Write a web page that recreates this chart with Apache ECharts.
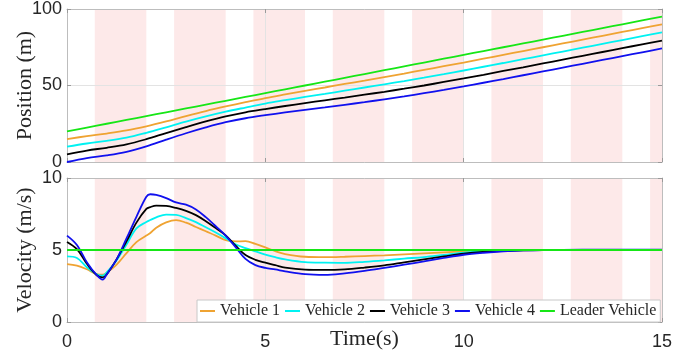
<!DOCTYPE html>
<html>
<head>
<meta charset="utf-8">
<script src="https://cdn.jsdelivr.net/npm/echarts@6/dist/echarts.min.js"></script>
<style>
html,body{margin:0;padding:0;background:#fff;}
#chart{width:700px;height:353px;}
</style>
</head>
<body>
<div id="chart"></div>
<script>
// ---------- data ----------
const seriesNames = ['Vehicle 1', 'Vehicle 2', 'Vehicle 3', 'Vehicle 4', 'Leader Vehicle'];
const xTicks = [0, 5, 10, 15];
const posTicks = [0, 50, 100];
const velTicks = [0, 5, 10];

// shaded intervals (s)
const bandStart = [0.7, 2.7, 4.7, 6.7, 8.7, 10.7, 12.7, 14.7];
const bandEnd   = [2.0, 4.0, 6.0, 8.0, 10.0, 12.0, 14.0, 15.0];

// position samples (s)
const posTime = [0,0.5,1,1.5,2,2.5,3,3.5,4,4.5,5,5.5,6,6.5,7,7.5,8,8.5,9,9.5,10,10.5,11,11.5,12,12.5,13,13.5,14,14.5,15];
const pos1 = [15.0,16.9,18.6,20.6,23.3,26.5,30.0,33.3,36.3,39.1,41.8,44.2,46.5,48.7,51.0,53.2,55.5,57.8,60.2,62.6,65.0,67.5,70.0,72.5,75.0,77.5,80.0,82.5,85.0,87.5,90.0];
const pos2 = [10.0,12.1,13.8,15.9,19.1,22.7,26.4,29.8,32.9,35.6,38.2,40.4,42.5,44.5,46.6,48.7,50.8,52.9,55.1,57.4,59.8,62.25,64.7,67.2,69.7,72.2,74.7,77.2,79.7,82.2,84.7];
const pos3 = [5.0,7.5,9.3,11.5,14.9,18.9,22.8,26.5,29.8,32.5,34.6,36.6,38.5,40.3,42.1,44.0,45.9,47.9,50.0,52.3,54.6,57.0,59.5,61.9,64.4,66.9,69.4,71.9,74.4,76.9,79.4];
const pos4 = [0.0,2.6,4.3,6.6,10.2,14.6,18.8,22.6,26.0,28.6,30.6,32.4,34.1,35.7,37.4,39.1,41.0,42.9,45.0,47.1,49.4,51.8,54.2,56.7,59.2,61.7,64.2,66.7,69.2,71.7,74.2];
const posLeader = [20,22.5,25,27.5,30,32.5,35,37.5,40,42.5,45,47.5,50,52.5,55,57.5,60,62.5,65,67.5,70,72.5,75,77.5,80,82.5,85,87.5,90,92.5,95];

// velocity samples (s)
const velTime = [0,0.25,0.5,0.75,0.9,1,1.25,1.5,1.75,2,2.1,2.25,2.5,2.75,3,3.25,3.5,3.75,4,4.25,4.5,4.75,5,5.25,5.5,6,6.5,7,7.5,8,8.5,9,9.5,10,10.5,11,11.5,12,13,14,15];
const vel1 = [4.02,3.92,3.66,3.32,3.28,3.42,3.98,4.78,5.55,6.0,6.18,6.55,6.92,7.08,6.9,6.6,6.3,6.0,5.68,5.6,5.61,5.42,5.18,4.92,4.72,4.53,4.5,4.53,4.58,4.63,4.7,4.77,4.84,4.91,4.96,4.99,5.0,5.0,5.0,5.0,5.0];
const vel2 = [4.56,4.45,3.8,3.32,3.22,3.45,4.27,5.38,6.5,6.95,7.08,7.27,7.46,7.44,7.22,6.94,6.58,6.22,5.82,5.4,5.13,4.9,4.68,4.5,4.35,4.16,4.12,4.11,4.18,4.28,4.4,4.51,4.66,4.81,4.92,4.97,5.0,5.0,5.0,5.0,5.0];
const vel3 = [5.56,5.06,4.05,3.25,3.1,3.3,4.35,5.6,6.9,7.85,7.98,8.08,8.06,7.92,7.72,7.42,7.0,6.52,6.02,5.3,4.65,4.32,4.12,3.95,3.78,3.64,3.62,3.66,3.78,3.93,4.14,4.35,4.55,4.74,4.86,4.93,4.98,5.0,5.0,5.0,5.0];
const vel4 = [6.0,5.35,4.15,3.25,2.94,3.3,4.35,5.8,7.3,8.7,8.87,8.82,8.6,8.3,8.15,7.82,7.28,6.65,6.0,5.2,4.38,3.95,3.76,3.65,3.52,3.32,3.27,3.38,3.55,3.76,3.98,4.21,4.45,4.67,4.81,4.91,4.97,5.0,5.02,5.02,5.02];
const velLeaderTime = [0, 15];
const velLeader = [5, 5];

const colors = ['#EFA332', '#00F2F2', '#000000', '#1010EE', '#16E616'];

// ---------- chart ----------
const zip = (xs, ys) => xs.map((x, i) => [x, ys[i]]);
const chart = echarts.init(document.getElementById('chart'), null, {renderer: 'canvas'});

const tickFont = {fontFamily: 'Liberation Sans, Arial, sans-serif', fontSize: 18, color: '#262626'};
const nameFont = {fontFamily: 'Liberation Serif, Times New Roman, serif', fontSize: 22, color: '#262626'};
const frameColor = '#bdbdbd';
const gridColor = '#e3e3e3';

const grids = [
  {left: 67, right: 38, top: 9, height: 153, containLabel: false, outerBoundsMode: 'none'},
  {left: 67, right: 38, top: 178, height: 144, containLabel: false, outerBoundsMode: 'none'}
];

function xAxisFor(gi, pos, showLabels, name) {
  return {
    type: 'value', gridIndex: gi, position: pos, min: 0, max: 15, interval: 5, z: 3,
    name: name || '', nameLocation: 'middle', nameGap: 6, nameMoveOverlap: false,
    nameTextStyle: nameFont,
    axisLine: {show: true, onZero: false, lineStyle: {color: frameColor, width: 1}},
    axisTick: {show: true, inside: true, length: 4, lineStyle: {color: '#9a9a9a'}},
    axisLabel: Object.assign({show: showLabels, margin: 11, formatter: v => (xTicks.includes(v) ? String(v) : '')}, tickFont),
    splitLine: {show: pos === 'bottom', lineStyle: {color: gridColor, width: 1}}
  };
}
function yAxisFor(gi, pos, ticks, name) {
  return {
    type: 'value', gridIndex: gi, position: pos, min: ticks[0], max: ticks[ticks.length - 1],
    interval: ticks[1] - ticks[0], z: 3,
    name: name || '', nameLocation: 'middle', nameGap: 31, nameMoveOverlap: false,
    nameTextStyle: nameFont,
    axisLine: {show: true, onZero: false, lineStyle: {color: frameColor, width: 1}},
    axisTick: {show: true, inside: true, length: 4, lineStyle: {color: '#9a9a9a'}},
    axisLabel: Object.assign({show: pos === 'left', margin: 5}, tickFont),
    splitLine: {show: pos === 'left', lineStyle: {color: gridColor, width: 1}}
  };
}

const bands = bandStart.map((s, i) => [{xAxis: s}, {xAxis: bandEnd[i]}]);

const posData = [pos1, pos2, pos3, pos4];
const velData = [vel1, vel2, vel3, vel4];
const series = [];
seriesNames.forEach((nm, k) => {
  const isLeader = k === 4;
  const common = {
    name: nm, type: 'line', symbol: 'none', smooth: 0.35, animation: false,
    lineStyle: {color: colors[k], width: 1.8}, itemStyle: {color: colors[k]}, z: 4 + k
  };
  series.push(Object.assign({}, common, {
    xAxisIndex: 0, yAxisIndex: 0,
    data: zip(posTime, isLeader ? posLeader : posData[k]),
    markArea: k === 0 ? {silent: true, itemStyle: {color: '#FDE9E9'}, data: bands} : undefined
  }));
  series.push(Object.assign({}, common, {
    xAxisIndex: 2, yAxisIndex: 2,
    data: isLeader ? zip(velLeaderTime, velLeader) : zip(velTime, velData[k]),
    markArea: k === 0 ? {silent: true, itemStyle: {color: '#FDE9E9'}, data: bands} : undefined
  }));
});

chart.setOption({
  animation: false,
  backgroundColor: '#ffffff',
  grid: grids,
  xAxis: [
    xAxisFor(0, 'bottom', false),
    xAxisFor(0, 'top', false),
    xAxisFor(1, 'bottom', true, 'Time(s)'),
    xAxisFor(1, 'top', false)
  ],
  yAxis: [
    yAxisFor(0, 'left', posTicks, 'Position (m)'),
    yAxisFor(0, 'right', posTicks),
    yAxisFor(1, 'left', velTicks, 'Velocity (m/s)'),
    yAxisFor(1, 'right', velTicks)
  ],
  legend: {
    data: seriesNames,
    left: 197, top: 300,
    orient: 'horizontal',
    icon: 'rect',
    itemWidth: 15, itemHeight: 2, itemGap: 5,
    padding: [3, 4, 3, 3],
    backgroundColor: '#ffffff',
    borderColor: '#c8c8c8', borderWidth: 1,
    textStyle: {fontFamily: 'Liberation Serif, Times New Roman, serif', fontSize: 16, color: '#262626', lineHeight: 16},
    z: 10
  },
  series: series
});
</script>
</body>
</html>
